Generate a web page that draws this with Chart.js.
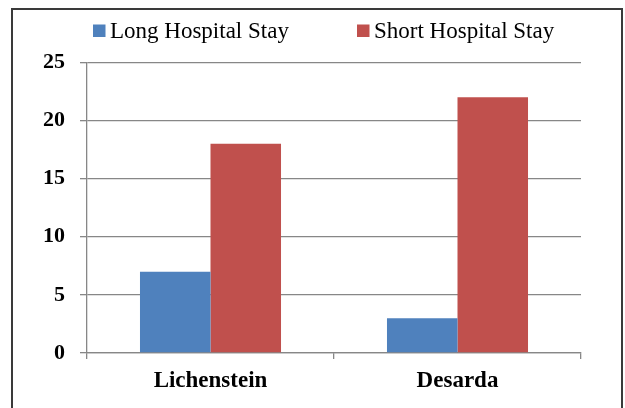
<!DOCTYPE html>
<html>
<head>
<meta charset="utf-8">
<script src="https://cdn.jsdelivr.net/npm/chart.js@4/dist/chart.umd.min.js"></script>
<style>
  html, body { margin: 0; padding: 0; background: #ffffff; overflow: hidden; }
  #wrap { width: 625px; height: 408px; }
</style>
</head>
<body>
<div id="wrap"><canvas id="chart" width="625" height="408"></canvas></div>
<script>
// Procedures compared in the study
const categories = ['Lichenstein', 'Desarda'];
// Number of patients per length-of-stay group
const longStay = [7, 3];
const shortStay = [18, 22];
const seriesNames = ['Long Hospital Stay', 'Short Hospital Stay'];
const seriesColors = ['#4F81BD', '#C0504D'];
// Value axis
const yMin = 0, yMax = 25, yStep = 5;

const serif = "'Liberation Serif', 'Times New Roman', serif";
const gridGray = '#878787';

// Outer frame around the figure
const framePlugin = {
  id: 'frame',
  beforeDraw(chart) {
    const ctx = chart.ctx;
    ctx.save();
    ctx.fillStyle = '#ffffff';
    ctx.fillRect(0, 0, chart.width, chart.height);
    ctx.strokeStyle = '#3a3a3a';
    ctx.lineWidth = 2;
    ctx.strokeRect(12, 9, 610, 500);
    ctx.restore();
  }
};

// Legend row drawn from the dataset labels and colours
const legendPlugin = {
  id: 'topLegend',
  afterDraw(chart) {
    const ctx = chart.ctx;
    const starts = [93, 357];
    ctx.save();
    ctx.font = '23px ' + serif;
    ctx.textBaseline = 'alphabetic';
    ctx.textAlign = 'left';
    chart.data.datasets.forEach((ds, i) => {
      const x = starts[i];
      ctx.fillStyle = ds.backgroundColor;
      ctx.fillRect(x, 24.5, 12.5, 12.5);
      ctx.fillStyle = '#000000';
      ctx.fillText(ds.label, x + 17, 37.5);
    });
    ctx.restore();
  }
};

new Chart(document.getElementById('chart'), {
  type: 'bar',
  data: {
    labels: categories,
    datasets: [
      { label: seriesNames[0], data: longStay, backgroundColor: seriesColors[0], borderWidth: 0 },
      { label: seriesNames[1], data: shortStay, backgroundColor: seriesColors[1], borderWidth: 0 }
    ]
  },
  options: {
    responsive: false,
    animation: false,
    devicePixelRatio: 1,
    layout: { padding: { left: 0, right: 44, top: 62.5, bottom: 0 } },
    plugins: {
      legend: { display: false },
      tooltip: { enabled: false }
    },
    datasets: {
      bar: { categoryPercentage: 0.571, barPercentage: 1.0 }
    },
    scales: {
      x: {
        offset: true,
        grid: {
          offset: true,
          drawOnChartArea: false,
          drawTicks: true,
          tickLength: 6,
          color: gridGray,
          lineWidth: 1.3
        },
        border: { display: true, color: gridGray, width: 1.3 },
        ticks: {
          color: '#000000',
          padding: 8,
          font: { family: serif, size: 23, weight: 'bold' }
        },
        afterFit(scale) { scale.height = 55; }
      },
      y: {
        min: yMin,
        max: yMax,
        grid: {
          color: gridGray,
          lineWidth: 1.3,
          drawTicks: true,
          tickLength: 7
        },
        border: { display: true, color: gridGray, width: 1.3 },
        ticks: {
          stepSize: yStep,
          color: '#000000',
          padding: 15,
          font: { family: serif, size: 22, weight: 'bold' }
        },
        afterFit(scale) { scale.width = 87; }
      }
    }
  },
  plugins: [framePlugin, legendPlugin]
});
</script>
</body>
</html>
